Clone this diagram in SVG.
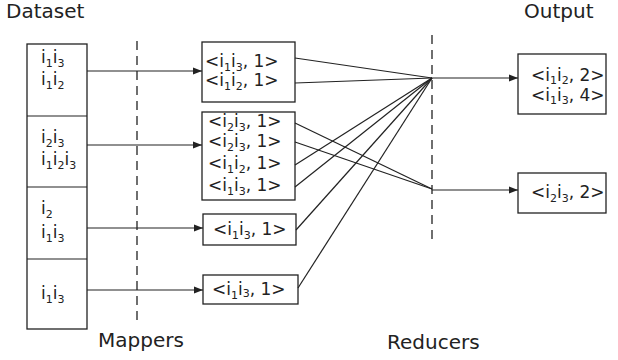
<svg xmlns="http://www.w3.org/2000/svg" width="618" height="360" viewBox="0 0 618 360">
  <defs>
    <style>
      text { font-family: "DejaVu Sans", "Liberation Sans", sans-serif; fill: #222; }
      .t { font-size: 17px; }
      .lbl { font-size: 20px; }
      .s { font-size: 11px; }
      .box { fill: #fff; stroke: #222; stroke-width: 1.3; }
      .ln { stroke: #222; stroke-width: 1.2; fill: none; }
      .dash { stroke: #222; stroke-width: 1.3; stroke-dasharray: 9 6; fill: none; }
    </style>
    <marker id="arr" viewBox="0 0 10 10" refX="10" refY="5" markerWidth="9" markerHeight="9" markerUnits="userSpaceOnUse" orient="auto">
      <path d="M0,1 L10,5 L0,9 Z" fill="#222"/>
    </marker>
  </defs>

  <!-- titles -->
  <text class="lbl" x="6" y="18">Dataset</text>
  <text class="lbl" x="524" y="18">Output</text>
  <text class="lbl" x="98" y="347">Mappers</text>
  <text class="lbl" x="387" y="349">Reducers</text>

  <!-- phase separators -->
  <line class="dash" x1="137" y1="41" x2="137" y2="325"/>
  <line class="dash" x1="432" y1="35" x2="432" y2="242"/>

  <!-- dataset partitions -->
  <g id="dataset">
    <rect class="box" x="27" y="44" width="60" height="285"/>
    <line class="ln" x1="27" y1="116" x2="87" y2="116"/>
    <line class="ln" x1="27" y1="187" x2="87" y2="187"/>
    <line class="ln" x1="27" y1="259" x2="87" y2="259"/>
    <text class="t" x="41" y="63">i<tspan class="s" dy="4">1</tspan><tspan dy="-4">i</tspan><tspan class="s" dy="4">3</tspan></text>
    <text class="t" x="41" y="85">i<tspan class="s" dy="4">1</tspan><tspan dy="-4">i</tspan><tspan class="s" dy="4">2</tspan></text>
    <text class="t" x="41" y="143">i<tspan class="s" dy="4">2</tspan><tspan dy="-4">i</tspan><tspan class="s" dy="4">3</tspan></text>
    <text class="t" x="41" y="165">i<tspan class="s" dy="4">1</tspan><tspan dy="-4">i</tspan><tspan class="s" dy="4">2</tspan><tspan dy="-4">i</tspan><tspan class="s" dy="4">3</tspan></text>
    <text class="t" x="41" y="214">i<tspan class="s" dy="4">2</tspan></text>
    <text class="t" x="41" y="238">i<tspan class="s" dy="4">1</tspan><tspan dy="-4">i</tspan><tspan class="s" dy="4">3</tspan></text>
    <text class="t" x="41" y="299">i<tspan class="s" dy="4">1</tspan><tspan dy="-4">i</tspan><tspan class="s" dy="4">3</tspan></text>
  </g>

  <!-- mapper outputs -->
  <g id="map1">
    <rect class="box" x="202" y="42" width="93" height="60"/>
    <text class="t" x="205" y="67">&lt;i<tspan class="s" dy="4">1</tspan><tspan dy="-4">i</tspan><tspan class="s" dy="4">3</tspan><tspan dy="-4">, 1&gt;</tspan></text>
    <text class="t" x="205" y="86">&lt;i<tspan class="s" dy="4">1</tspan><tspan dy="-4">i</tspan><tspan class="s" dy="4">2</tspan><tspan dy="-4">, 1&gt;</tspan></text>
  </g>
  <g id="map2">
    <rect class="box" x="202" y="112" width="93" height="88"/>
    <text class="t" x="208" y="127">&lt;i<tspan class="s" dy="4">2</tspan><tspan dy="-4">i</tspan><tspan class="s" dy="4">3</tspan><tspan dy="-4">, 1&gt;</tspan></text>
    <text class="t" x="208" y="147">&lt;i<tspan class="s" dy="4">2</tspan><tspan dy="-4">i</tspan><tspan class="s" dy="4">3</tspan><tspan dy="-4">, 1&gt;</tspan></text>
    <text class="t" x="208" y="169">&lt;i<tspan class="s" dy="4">1</tspan><tspan dy="-4">i</tspan><tspan class="s" dy="4">2</tspan><tspan dy="-4">, 1&gt;</tspan></text>
    <text class="t" x="208" y="191">&lt;i<tspan class="s" dy="4">1</tspan><tspan dy="-4">i</tspan><tspan class="s" dy="4">3</tspan><tspan dy="-4">, 1&gt;</tspan></text>
  </g>
  <g id="map3">
    <rect class="box" x="203" y="214" width="93" height="31"/>
    <text class="t" x="213" y="235">&lt;i<tspan class="s" dy="4">1</tspan><tspan dy="-4">i</tspan><tspan class="s" dy="4">3</tspan><tspan dy="-4">, 1&gt;</tspan></text>
  </g>
  <g id="map4">
    <rect class="box" x="203" y="275" width="95" height="29"/>
    <text class="t" x="212" y="295">&lt;i<tspan class="s" dy="4">1</tspan><tspan dy="-4">i</tspan><tspan class="s" dy="2">3</tspan><tspan dy="-2">, 1&gt;</tspan></text>
  </g>

  <!-- reducer outputs -->
  <g id="out1">
    <rect class="box" x="518" y="54" width="88" height="60"/>
    <text class="t" x="531" y="81">&lt;i<tspan class="s" dy="3">1</tspan><tspan dy="-3">i</tspan><tspan class="s" dy="3">2</tspan><tspan dy="-3">, 2&gt;</tspan></text>
    <text class="t" x="531" y="101">&lt;i<tspan class="s" dy="3">1</tspan><tspan dy="-3">i</tspan><tspan class="s" dy="3">3</tspan><tspan dy="-3">, 4&gt;</tspan></text>
  </g>
  <g id="out2">
    <rect class="box" x="518" y="173" width="88" height="40"/>
    <text class="t" x="531" y="198">&lt;i<tspan class="s" dy="4">2</tspan><tspan dy="-4">i</tspan><tspan class="s" dy="4">3</tspan><tspan dy="-4">, 2&gt;</tspan></text>
  </g>

  <!-- connectors -->
  <g id="connectors">
    <line class="ln" x1="87" y1="71" x2="202" y2="71" marker-end="url(#arr)"/>
    <line class="ln" x1="87" y1="145" x2="202" y2="145" marker-end="url(#arr)"/>
    <line class="ln" x1="87" y1="228" x2="203" y2="228" marker-end="url(#arr)"/>
    <line class="ln" x1="87" y1="290" x2="203" y2="290" marker-end="url(#arr)"/>

    <line class="ln" x1="295" y1="58" x2="432" y2="78"/>
    <line class="ln" x1="295" y1="83" x2="432" y2="78"/>
    <line class="ln" x1="295" y1="123" x2="432" y2="189"/>
    <line class="ln" x1="295" y1="142" x2="432" y2="189"/>
    <line class="ln" x1="295" y1="165" x2="432" y2="78"/>
    <line class="ln" x1="295" y1="187" x2="432" y2="78"/>
    <line class="ln" x1="296" y1="230" x2="432" y2="78"/>
    <line class="ln" x1="298" y1="288" x2="432" y2="78"/>

    <line class="ln" x1="432" y1="78" x2="518" y2="78" marker-end="url(#arr)"/>
    <line class="ln" x1="432" y1="190" x2="518" y2="190" marker-end="url(#arr)"/>
  </g>
</svg>
